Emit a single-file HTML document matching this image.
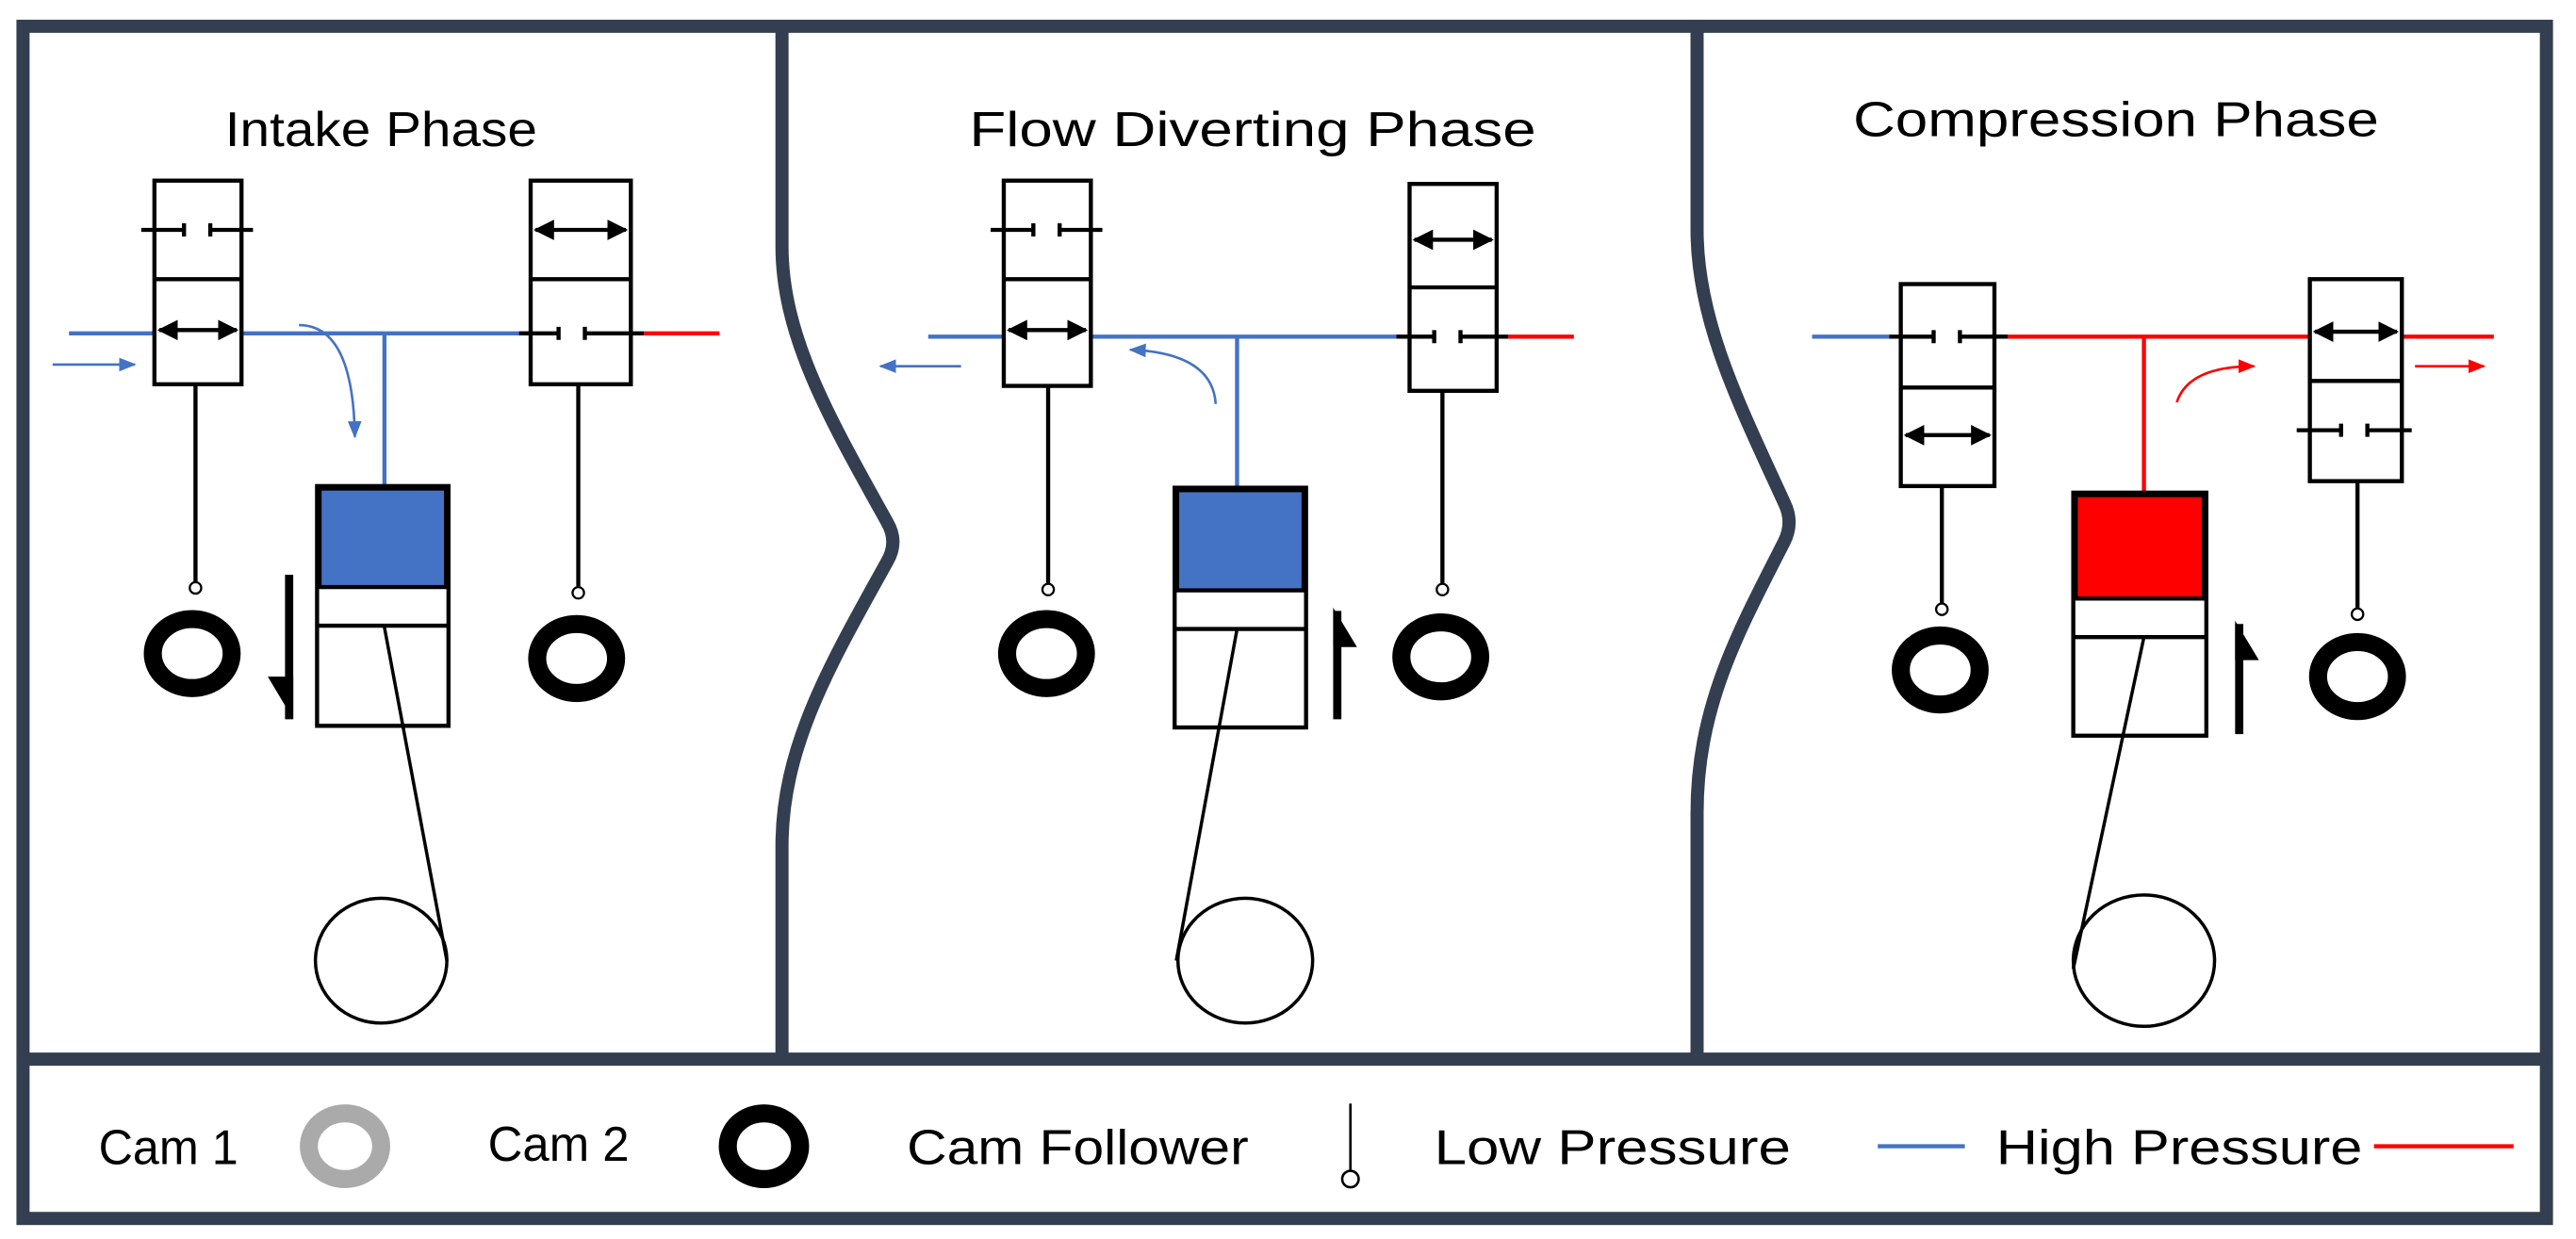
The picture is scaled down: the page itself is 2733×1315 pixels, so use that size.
<!DOCTYPE html>
<html><head><meta charset="utf-8"><style>html,body{margin:0;padding:0;background:#fff}svg{display:block}</style></head>
<body>
<svg width="2733" height="1315" viewBox="0 0 1568 754.5" preserveAspectRatio="none" xmlns="http://www.w3.org/2000/svg">
<defs>
<marker id="ah" viewBox="0 0 10 10" refX="9" refY="5" markerWidth="5" markerHeight="5" orient="auto-start-reverse"><path d="M0,0 L10,5 L0,10 z" fill="#000"/></marker>
<marker id="ab" viewBox="0 0 10 10" refX="9" refY="5" markerWidth="7" markerHeight="7" orient="auto"><path d="M0,1 L10,5 L0,9 z" fill="#4472c4"/></marker>
<marker id="ar" viewBox="0 0 10 10" refX="9" refY="5" markerWidth="7" markerHeight="7" orient="auto"><path d="M0,1 L10,5 L0,9 z" fill="#f00"/></marker>
</defs>
<rect width="1568" height="754.5" fill="#fff"/>
<g fill="none" stroke="#333f50" stroke-width="8">
<rect x="14" y="16" width="1536" height="726"/>
<line x1="14" y1="645" x2="1550" y2="645"/>
<path d="M476,16 L476,150 C476,205 505,255 540,318 Q547,330 540,342 C505,405 476,455 476,515 L476,645"/>
<path d="M1033,14 L1033,140 C1033,195 1058,245 1086,306 Q1092,318 1086,330 C1058,385 1033,430 1033,495 L1033,645"/>
</g>
<g font-family="Liberation Sans, sans-serif" font-size="30" fill="#000" lengthAdjust="spacingAndGlyphs">
<text x="137" y="89" textLength="190" lengthAdjust="spacingAndGlyphs">Intake Phase</text>
<text x="590" y="89" textLength="345" lengthAdjust="spacingAndGlyphs">Flow Diverting Phase</text>
<text x="1128" y="83" textLength="320" lengthAdjust="spacingAndGlyphs">Compression Phase</text>
<text x="60" y="709" textLength="85" lengthAdjust="spacingAndGlyphs">Cam 1</text>
<text x="297" y="707" textLength="86" lengthAdjust="spacingAndGlyphs">Cam 2</text>
<text x="552" y="709" textLength="208" lengthAdjust="spacingAndGlyphs">Cam Follower</text>
<text x="873" y="709" textLength="217" lengthAdjust="spacingAndGlyphs">Low Pressure</text>
<text x="1215" y="709" textLength="223" lengthAdjust="spacingAndGlyphs">High Pressure</text>
</g>
<ellipse cx="210" cy="698" rx="22" ry="20" fill="none" stroke="#aaa" stroke-width="11"/>
<ellipse cx="465" cy="698" rx="22" ry="20" fill="none" stroke="#000" stroke-width="11"/>
<line x1="822" y1="672" x2="822" y2="713" stroke="#000" stroke-width="1.5"/>
<circle cx="822" cy="718" r="5" fill="#fff" stroke="#000" stroke-width="1.5"/>
<line x1="1143" y1="698" x2="1196" y2="698" stroke="#4472c4" stroke-width="2.5"/>
<line x1="1445" y1="698" x2="1530" y2="698" stroke="#f00" stroke-width="2.5"/>

<!-- PANEL 1 -->
<line x1="42" y1="203" x2="322" y2="203" stroke="#4472c4" stroke-width="2.5"/>
<line x1="392" y1="203" x2="438" y2="203" stroke="#f00" stroke-width="2.5"/>
<line x1="32" y1="222" x2="82" y2="222" stroke="#4472c4" stroke-width="1.5" marker-end="url(#ab)"/>
<path d="M182,198 Q215,198 216,266" fill="none" stroke="#4472c4" stroke-width="1.5" marker-end="url(#ab)"/>
<line x1="234" y1="203" x2="234" y2="296" stroke="#4472c4" stroke-width="2.5"/>
<g stroke="#000" stroke-width="2.5" fill="none">
<rect x="94" y="110" width="53" height="124" fill="#fff"/><line x1="94" y1="170" x2="147" y2="170"/>
<path d="M86,140 H112 M112,136 V144 M128,136 V144 M128,140 H154"/>
<line x1="97" y1="201" x2="144" y2="201" marker-start="url(#ah)" marker-end="url(#ah)"/>
<rect x="323" y="110" width="61" height="124" fill="#fff"/><line x1="323" y1="170" x2="384" y2="170"/>
<line x1="326" y1="140" x2="381" y2="140" marker-start="url(#ah)" marker-end="url(#ah)"/>
<path d="M316,203 H340 M340,199 V207 M356,199 V207 M356,203 H392"/>
<line x1="119" y1="234" x2="119" y2="354"/><line x1="352" y1="234" x2="352" y2="357"/>
<rect x="193" y="296" width="80" height="146"/>
<line x1="193" y1="381" x2="273" y2="381"/>
<line x1="234" y1="382" x2="272" y2="585" stroke-width="2"/>
<ellipse cx="232" cy="585" rx="40" ry="38" stroke-width="2"/>
</g>
<rect x="194.5" y="297.5" width="77" height="60" fill="#4472c4" stroke="#000" stroke-width="2.5"/>
<circle cx="119" cy="358" r="3.5" fill="#fff" stroke="#000" stroke-width="1.3"/>
<circle cx="352" cy="361" r="3.5" fill="#fff" stroke="#000" stroke-width="1.3"/>
<ellipse cx="117" cy="398" rx="24" ry="21" fill="none" stroke="#000" stroke-width="11"/>
<ellipse cx="351" cy="401" rx="24" ry="21" fill="none" stroke="#000" stroke-width="11"/>
<line x1="176" y1="350" x2="176" y2="438" stroke="#000" stroke-width="5"/>
<path d="M178.5,438 L178.5,412 L163,412 Z" fill="#000"/>

<!-- PANEL 2 -->
<line x1="565" y1="205" x2="858" y2="205" stroke="#4472c4" stroke-width="2.5"/>
<line x1="918" y1="205" x2="958" y2="205" stroke="#f00" stroke-width="2.5"/>
<line x1="585" y1="223" x2="536" y2="223" stroke="#4472c4" stroke-width="1.5" marker-end="url(#ab)"/>
<path d="M740,246 Q738,215 688,213" fill="none" stroke="#4472c4" stroke-width="1.5" marker-end="url(#ab)"/>
<line x1="753" y1="205" x2="753" y2="297" stroke="#4472c4" stroke-width="2.5"/>
<g stroke="#000" stroke-width="2.5" fill="none">
<rect x="611" y="110" width="53" height="125" fill="#fff"/><line x1="611" y1="170" x2="664" y2="170"/>
<path d="M603,140 H629 M629,136 V144 M645,136 V144 M645,140 H671"/>
<line x1="614" y1="201" x2="661" y2="201" marker-start="url(#ah)" marker-end="url(#ah)"/>
<rect x="858" y="112" width="53" height="126" fill="#fff"/><line x1="858" y1="175" x2="911" y2="175"/>
<line x1="861" y1="146" x2="908" y2="146" marker-start="url(#ah)" marker-end="url(#ah)"/>
<path d="M850,205 H873 M873,201 V209 M889,201 V209 M889,205 H918"/>
<line x1="638" y1="235" x2="638" y2="355"/><line x1="878" y1="238" x2="878" y2="355"/>
<rect x="715" y="297" width="80" height="146"/>
<line x1="715" y1="383" x2="795" y2="383"/>
<line x1="753" y1="383" x2="716" y2="585" stroke-width="2"/>
<ellipse cx="758" cy="585" rx="41" ry="38" stroke-width="2"/>
</g>
<rect x="716.5" y="298.5" width="77" height="61" fill="#4472c4" stroke="#000" stroke-width="2.5"/>
<circle cx="638" cy="359" r="3.5" fill="#fff" stroke="#000" stroke-width="1.3"/>
<circle cx="878" cy="359" r="3.5" fill="#fff" stroke="#000" stroke-width="1.3"/>
<ellipse cx="637" cy="398" rx="24" ry="21" fill="none" stroke="#000" stroke-width="11"/>
<ellipse cx="877" cy="400" rx="24" ry="21" fill="none" stroke="#000" stroke-width="11"/>
<line x1="814" y1="438" x2="814" y2="372" stroke="#000" stroke-width="5"/>
<path d="M811.5,370 L811.5,394 L826,394 Z" fill="#000"/>

<!-- PANEL 3 -->
<line x1="1103" y1="205" x2="1150" y2="205" stroke="#4472c4" stroke-width="2.5"/>
<line x1="1214" y1="205" x2="1518" y2="205" stroke="#f00" stroke-width="2.5"/>
<line x1="1470" y1="223" x2="1512" y2="223" stroke="#f00" stroke-width="1.5" marker-end="url(#ar)"/>
<path d="M1325,245 Q1332,223 1372,223" fill="none" stroke="#f00" stroke-width="1.5" marker-end="url(#ar)"/>
<line x1="1305" y1="205" x2="1305" y2="300" stroke="#f00" stroke-width="2.5"/>
<g stroke="#000" stroke-width="2.5" fill="none">
<rect x="1157" y="173" width="57" height="123" fill="#fff"/><line x1="1157" y1="236" x2="1214" y2="236"/>
<path d="M1150,205 H1177 M1177,201 V209 M1193,201 V209 M1193,205 H1222"/>
<line x1="1160" y1="265" x2="1211" y2="265" marker-start="url(#ah)" marker-end="url(#ah)"/>
<rect x="1406" y="170" width="56" height="123" fill="#fff"/><line x1="1406" y1="232" x2="1462" y2="232"/>
<line x1="1409" y1="202" x2="1459" y2="202" marker-start="url(#ah)" marker-end="url(#ah)"/>
<path d="M1398,262 H1425 M1425,258 V266 M1441,258 V266 M1441,262 H1468"/>
<line x1="1182" y1="296" x2="1182" y2="367"/><line x1="1435" y1="293" x2="1435" y2="370"/>
<rect x="1262" y="300" width="81" height="148"/>
<line x1="1262" y1="388" x2="1343" y2="388"/>
<line x1="1305" y1="388" x2="1262" y2="590" stroke-width="2"/>
<ellipse cx="1305" cy="585" rx="43" ry="40" stroke-width="2"/>
</g>
<rect x="1263.5" y="301.5" width="78" height="63" fill="#f00" stroke="#000" stroke-width="2.5"/>
<circle cx="1182" cy="371" r="3.5" fill="#fff" stroke="#000" stroke-width="1.3"/>
<circle cx="1435" cy="374" r="3.5" fill="#fff" stroke="#000" stroke-width="1.3"/>
<ellipse cx="1181" cy="408" rx="24" ry="21" fill="none" stroke="#000" stroke-width="11"/>
<ellipse cx="1435" cy="412" rx="24" ry="21" fill="none" stroke="#000" stroke-width="11"/>
<line x1="1363" y1="447" x2="1363" y2="380" stroke="#000" stroke-width="5"/>
<path d="M1360.5,378 L1360.5,402 L1375,402 Z" fill="#000"/>
</svg>
</body></html>
